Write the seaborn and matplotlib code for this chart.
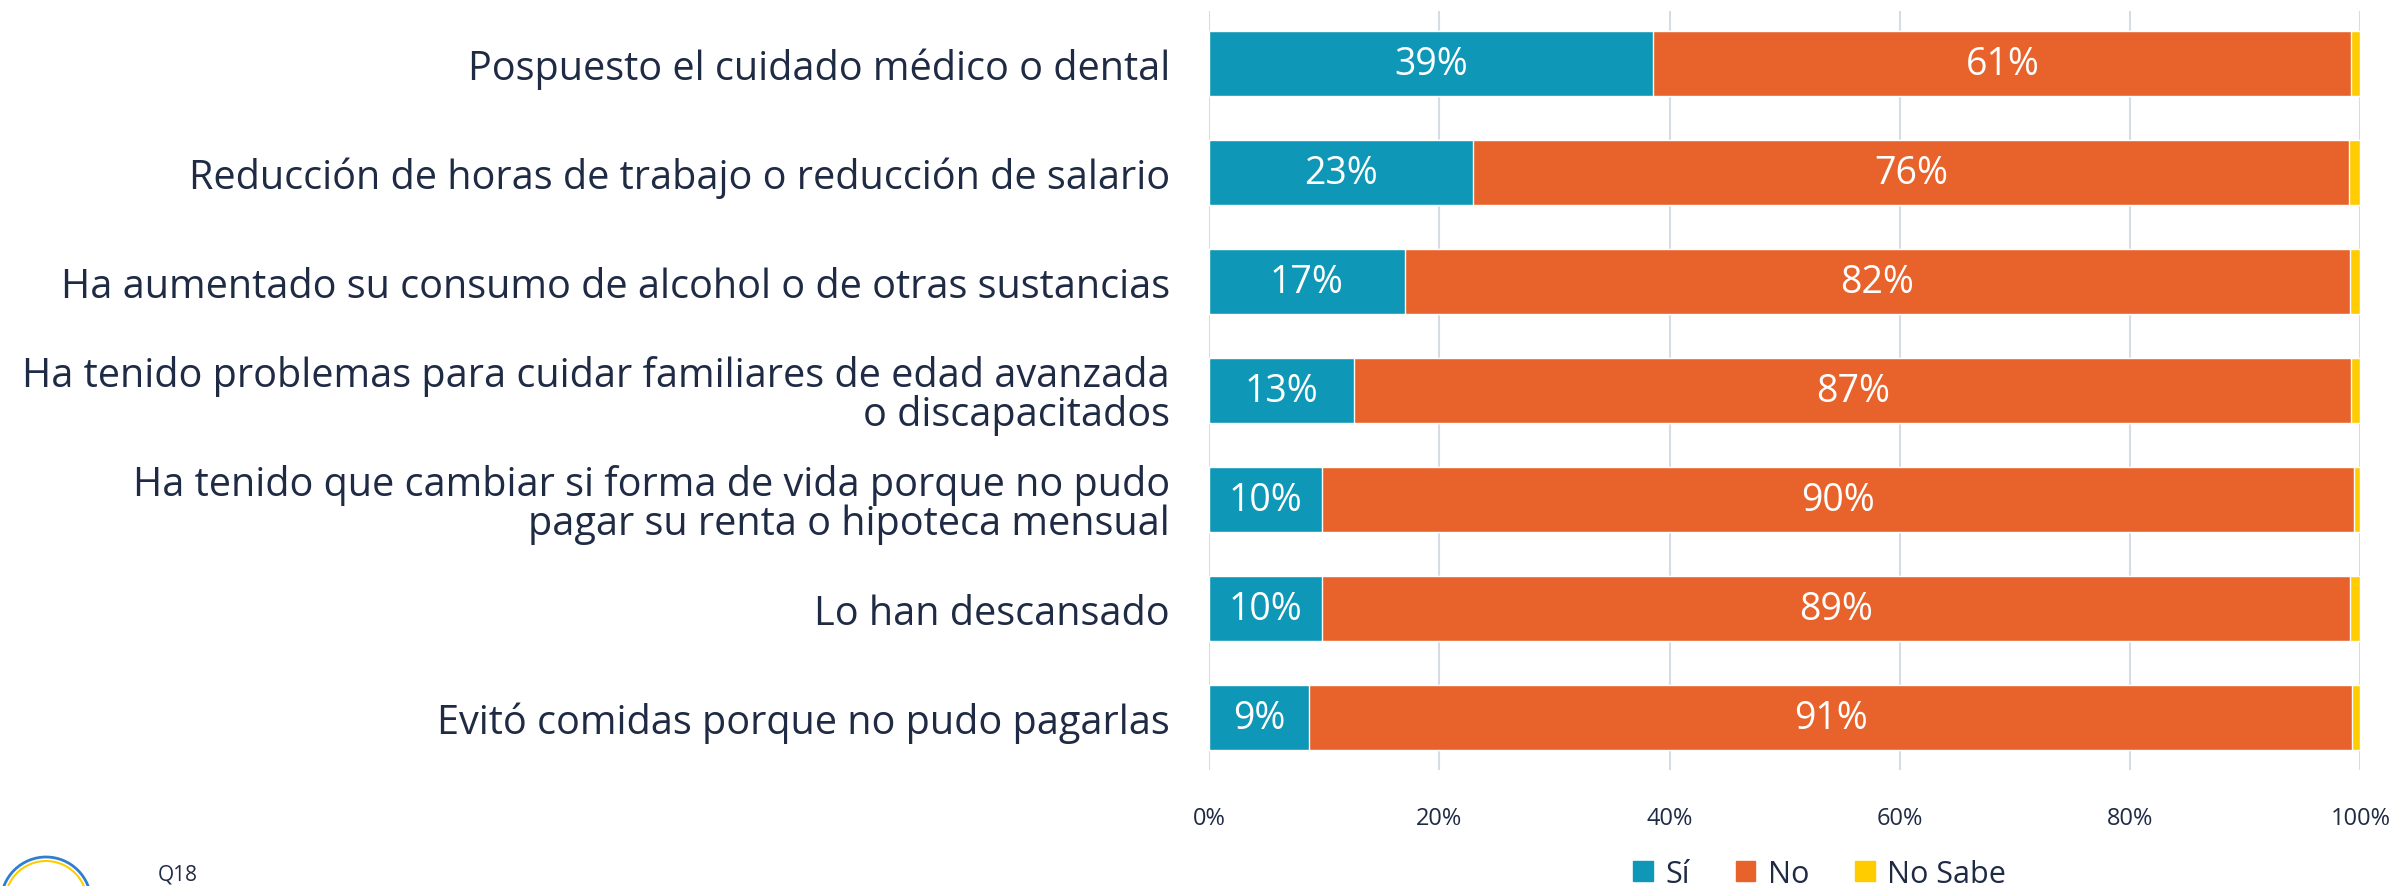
import matplotlib.pyplot as plt
import matplotlib.patches as mpatches
import pandas as pd
import seaborn as sns

# datos (porcentajes)
categorias = [
    "Pospuesto el cuidado médico o dental",
    "Reducción de horas de trabajo o reducción de salario",
    "Ha aumentado su consumo de alcohol o de otras sustancias",
    "Ha tenido problemas para cuidar familiares de edad avanzada\no discapacitados",
    "Ha tenido que cambiar si forma de vida porque no pudo\npagar su renta o hipoteca mensual",
    "Lo han descansado",
    "Evitó comidas porque no pudo pagarlas",
]
si = [38.6, 22.9, 17.0, 12.6, 9.8, 9.8, 8.7]
no = [60.6, 76.1, 82.1, 86.6, 89.6, 89.3, 90.6]
no_sabe = [0.8, 1.0, 0.9, 0.8, 0.6, 0.9, 0.7]
series = ["Sí", "No", "No Sabe"]
ticks = [0, 20, 40, 60, 80, 100]

colores = {"Sí": "#0E97B6", "No": "#E8632B", "No Sabe": "#FFCC00"}
texto = "#1F2A44"

df = pd.DataFrame({"cat": categorias, "Sí": si, "No": no, "No Sabe": no_sabe})
df["c_si"] = df["Sí"]
df["c_no"] = df["Sí"] + df["No"]
df["c_ns"] = df["c_no"] + df["No Sabe"]

sns.set_style("white")
plt.rcParams["font.family"] = ["Open Sans", "DejaVu Sans"]

fig = plt.figure(figsize=(23.94, 8.87), dpi=100)
ax = fig.add_axes([0.505, 0.131, 0.481, 0.855])

# barras apiladas: se dibujan los acumulados de mayor a menor
for col, serie in [("c_ns", "No Sabe"), ("c_no", "No"), ("c_si", "Sí")]:
    sns.barplot(data=df, x=col, y="cat", orient="h", color=colores[serie],
                width=0.6, saturation=1, ax=ax, zorder=3)

# etiquetas dentro de las barras
for i in range(len(categorias)):
    ax.text(si[i] / 2, i, f"{si[i]:.0f}%", ha="center", va="center",
            color="white", fontsize=27, zorder=4)
    ax.text(si[i] + no[i] / 2, i, f"{no[i]:.0f}%", ha="center", va="center",
            color="white", fontsize=27, zorder=4)

ax.set_xlim(0, 100)
ax.set_ylim(len(categorias) - 0.52, -0.48)
ax.set_xticks(ticks)
ax.set_xticklabels([f"{t}%" for t in ticks], fontsize=17, color=texto)
ax.tick_params(axis="x", length=0, pad=26)
ax.tick_params(axis="y", length=0, pad=28, labelsize=28.5, labelcolor=texto)
for lab in ax.get_yticklabels():
    lab.set_linespacing(0.95)
ax.set_xlabel("")
ax.set_ylabel("")
ax.grid(axis="x", color="#D5DCE6", linewidth=1.5, zorder=0)
for s in ax.spines.values():
    s.set_visible(False)

# leyenda
handles = [mpatches.Patch(color=colores[s], label=s) for s in series]
fig.legend(handles=handles, loc="center", bbox_to_anchor=(0.76, 0.014),
           ncol=3, frameon=False, fontsize=22, handlelength=0.65,
           handleheight=0.65, handletextpad=0.4, columnspacing=1.5,
           labelcolor=texto)

# logo y pie (cortados en el borde inferior)
fig.patches.append(mpatches.Circle((46, -16), 45, transform=None,
                                   fill=False, edgecolor="#2F7FD0", lw=2))
fig.patches.append(mpatches.Circle((46, -16), 41, transform=None,
                                   fill=False, edgecolor="#FFCC00", lw=1.5))
fig.text(0.066, 0.002, "Q18", fontsize=15, color=texto, va="bottom")

fig.savefig("out.png", dpi=100)
